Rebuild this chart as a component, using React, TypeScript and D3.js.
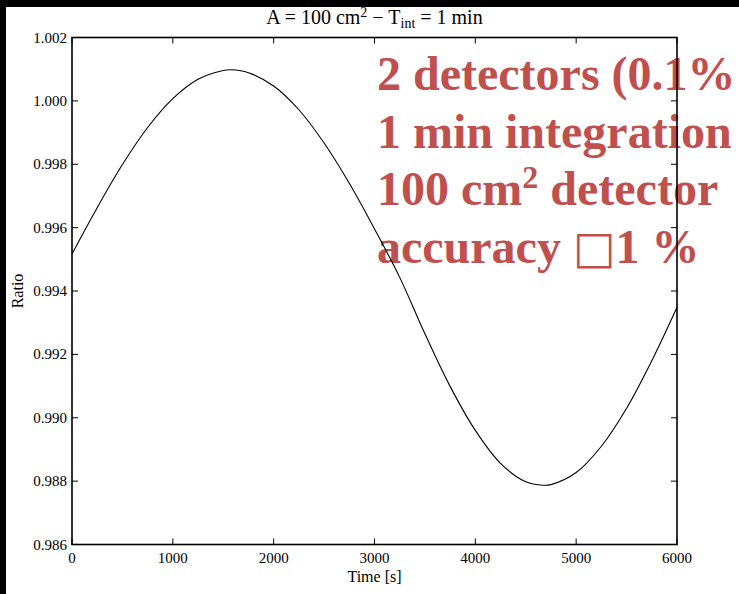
import React from "react";
import * as d3 from "d3";

// Time axis (seconds) and measured ratio values
const timeValues = [0, 250, 500, 750, 1000, 1250, 1500, 1580, 1750, 2000, 2250, 2500, 2750, 3000, 3250, 3500, 3750, 4000, 4250, 4500, 4670, 4750, 5000, 5250, 5500, 5750, 6000];
const ratioValues = [0.99517, 0.99663, 0.99799, 0.99916, 1.00007, 1.00068, 1.00096, 1.00098, 1.00089, 1.00047, 0.99972, 0.99867, 0.9974, 0.99596, 0.99443, 0.99265, 0.99099, 0.9896, 0.98856, 0.98798, 0.98787, 0.98789, 0.98827, 0.9891, 0.9903, 0.9918, 0.99349];

const xTicks = [0, 1000, 2000, 3000, 4000, 5000, 6000];
const yTicks = [0.986, 0.988, 0.99, 0.992, 0.994, 0.996, 0.998, 1.0, 1.002];

const noteLines = ["2 detectors (0.1%", "1 min integration", "100 cm² detector"];

const W = 739;
const H = 594;
const plot = { left: 72, right: 677, top: 37.5, bottom: 544.5 };
const serif = "'Liberation Serif', 'DejaVu Serif', serif";
const red = "#c0504d";

export default function App() {
  if (typeof document !== "undefined") {
    document.body.style.margin = "0";
    document.body.style.background = "#000";
  }
  const x = d3.scaleLinear().domain([0, 6000]).range([plot.left, plot.right]);
  const y = d3.scaleLinear().domain([0.986, 1.002]).range([plot.bottom, plot.top]);
  const pts: [number, number][] = timeValues.map((t, i) => [t, ratioValues[i]]);
  const line = d3
    .line<[number, number]>()
    .x((d) => x(d[0]))
    .y((d) => y(d[1]))
    .curve(d3.curveCatmullRom.alpha(0.5));
  const tickLen = 6;

  return (
    <svg width={W} height={H} style={{ display: "block" }}>
      <rect x={0} y={0} width={W} height={H} fill="#000" />
      <rect x={6} y={7} width={W - 6} height={H - 7} fill="#fff" />

      {/* annotation text, sitting beneath the chart strokes */}
      <g fontFamily={serif} fontWeight="bold" fontSize={48} fill={red}>
        {noteLines.map((s, i) => (
          <text key={i} x={377} y={90 + i * 57.5}>
            {i === 2 ? (
              <>
                100 cm<tspan dy={-17} fontSize={32}>2</tspan>
                <tspan dy={17}> detector</tspan>
              </>
            ) : (
              s
            )}
          </text>
        ))}
        <text x={377} y={262.5}>
          accuracy <tspan fontWeight="normal" fontFamily="'DejaVu Sans', sans-serif" fontSize={45}>□</tspan>
          <tspan>1 %</tspan>
        </text>
      </g>

      {/* title */}
      <text x={(plot.left + plot.right) / 2} y={24} textAnchor="middle" fontFamily={serif} fontSize={20} fill="#000">
        A = 100 cm<tspan dy={-7} fontSize={14}>2</tspan>
        <tspan dy={7}> − T</tspan>
        <tspan dy={4} fontSize={14}>int</tspan>
        <tspan dy={-4}> = 1 min</tspan>
      </text>

      {/* curve */}
      <path d={line(pts) ?? ""} fill="none" stroke="#000" strokeWidth={1.1} />

      {/* ticks on all four sides, pointing inward */}
      <g stroke="#000" strokeWidth={1}>
        {xTicks.map((t) => (
          <g key={"x" + t}>
            <line x1={x(t)} x2={x(t)} y1={plot.bottom} y2={plot.bottom - tickLen} />
            <line x1={x(t)} x2={x(t)} y1={plot.top} y2={plot.top + tickLen} />
          </g>
        ))}
        {yTicks.map((v) => (
          <g key={"y" + v}>
            <line x1={plot.left} x2={plot.left + tickLen} y1={y(v)} y2={y(v)} />
            <line x1={plot.right} x2={plot.right - tickLen} y1={y(v)} y2={y(v)} />
          </g>
        ))}
      </g>

      {/* frame */}
      <rect
        x={plot.left}
        y={plot.top}
        width={plot.right - plot.left}
        height={plot.bottom - plot.top}
        fill="none"
        stroke="#000"
        strokeWidth={1.6}
      />

      {/* tick labels */}
      <g fontFamily={serif} fontSize={15} fill="#000">
        {xTicks.map((t) => (
          <text key={"xl" + t} x={x(t)} y={563} textAnchor="middle">
            {t}
          </text>
        ))}
        {yTicks.map((v) => (
          <text key={"yl" + v} x={67} y={y(v) + 5} textAnchor="end">
            {v.toFixed(3)}
          </text>
        ))}
      </g>

      {/* axis titles */}
      <text x={(plot.left + plot.right) / 2} y={582} textAnchor="middle" fontFamily={serif} fontSize={16} fill="#000">
        Time [s]
      </text>
      <text
        transform={`translate(23, ${(plot.top + plot.bottom) / 2}) rotate(-90)`}
        textAnchor="middle"
        fontFamily={serif}
        fontSize={16}
        fill="#000"
      >
        Ratio
      </text>
    </svg>
  );
}
